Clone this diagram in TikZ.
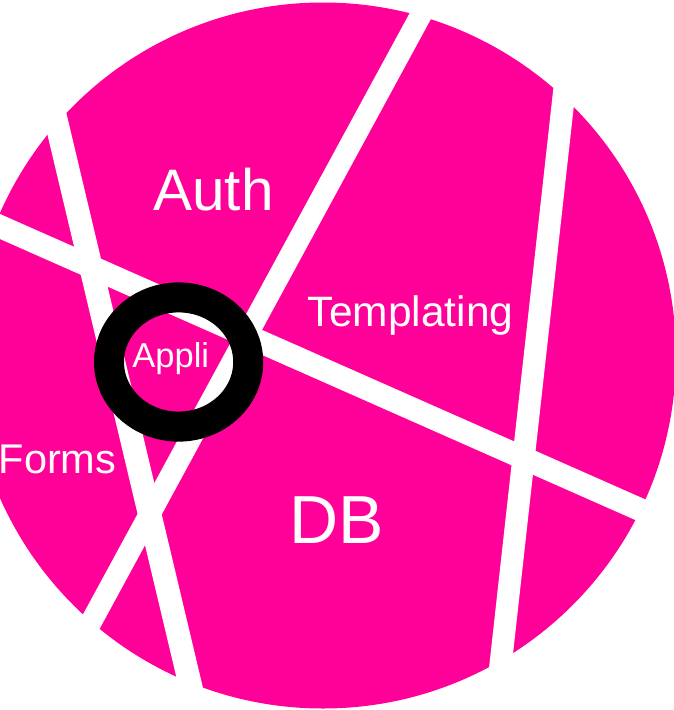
\documentclass[tikz,border=0pt]{standalone}
\usepackage{fontspec}
\setmainfont{Liberation Sans}
\definecolor{plate}{HTML}{FF0099}
\begin{document}
\begin{tikzpicture}[x=1pt,y=-1pt,
  crack/.style={draw=white,line cap=butt},
  lbl/.style={text=white,inner sep=0pt,anchor=base}]
\useasboundingbox (0,0) rectangle (673,710);
\fill[white] (0,0) rectangle (673,710);
% plate
\fill[plate] (323,355.5) circle[radius=353pt];
% cracks
\begin{scope}
\clip (323,355.5) circle[radius=354pt];
\coordinate (a1) at (17,-44);   \coordinate (a2) at (210,768);
\coordinate (b1) at (429,0);    \coordinate (b2) at (40,716);
\coordinate (c1) at (-10,222.1);\coordinate (c2) at (700,536.1);
\coordinate (d1) at (574.4,0);  \coordinate (d2) at (490,760);
\draw[crack,line width=23.4pt] (a1) -- (a2);
\draw[crack,line width=21.5pt] (b1) -- (b2);
\draw[crack,line width=22.9pt] (c1) -- (c2);
\draw[crack,line width=22.3pt] (d1) -- (d2);
\end{scope}
% ring
\draw[black,line width=30pt] (178.6,362) ellipse[x radius=69.6pt,y radius=64.6pt];
% labels
\node[lbl,font=\fontsize{58.5}{58.5}\selectfont] (auth) at (213.5,210.7) {Auth};
\node[lbl,font=\fontsize{42.5}{42.5}\selectfont] (templ) at (410.5,326) {Templating};
\node[lbl,font=\fontsize{34.5}{34.5}\selectfont] (appli) at (170.8,367.3) {Appli};
\node[lbl,font=\fontsize{41.5}{41.5}\selectfont,anchor=base west] (forms) at (-1.5,473.5) {Forms};
\node[lbl,font=\fontsize{68}{68}\selectfont] (db) at (337,543) {DB};
\end{tikzpicture}
\end{document}
